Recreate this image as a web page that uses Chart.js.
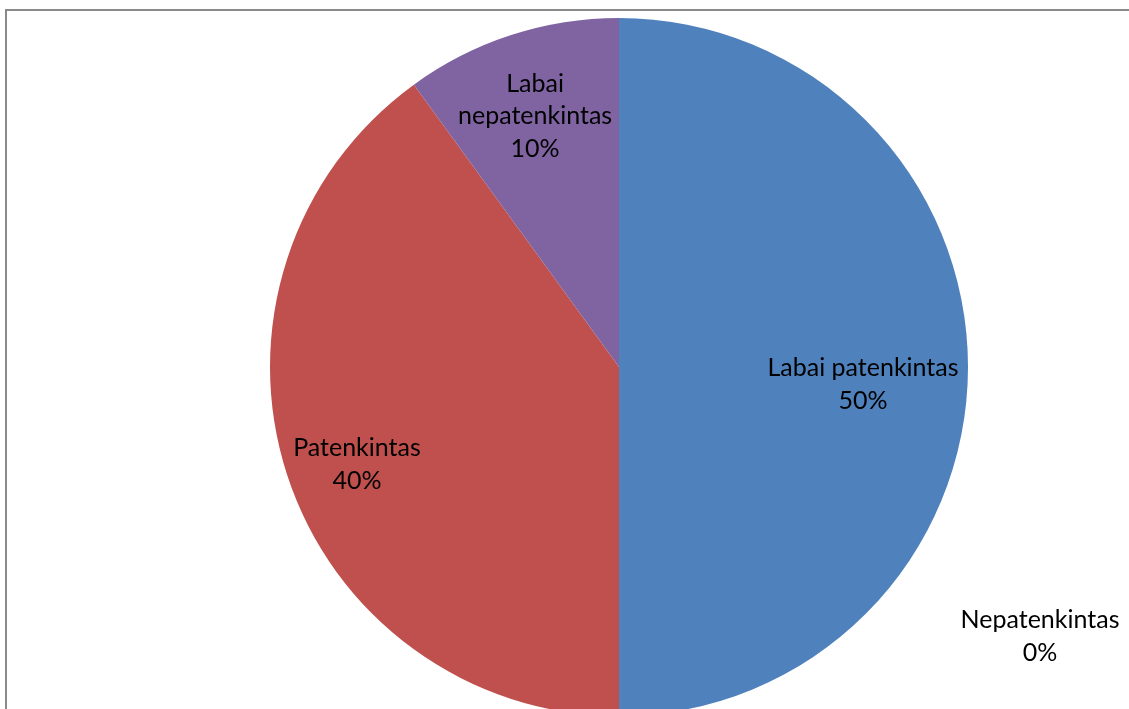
<!DOCTYPE html>
<html>
<head>
<meta charset="utf-8">
<script src="https://cdn.jsdelivr.net/npm/chart.js@4"></script>
<style>
  html, body { margin: 0; padding: 0; background: #fff; overflow: hidden; }
  #frame { position: absolute; left: 5px; top: 9px; width: 1300px; height: 900px; border: 2px solid #8a8a8a; }
  #wrap { position: absolute; left: 0; top: 0; width: 1129px; height: 740px; }
</style>
</head>
<body>
<div id="frame"></div>
<div id="wrap"><canvas id="pieChart"></canvas></div>
<script>
let categories = ["Labai patenkintas", "Nepatenkintas", "Patenkintas", "Labai nepatenkintas"];
let percentages = [50, 0, 40, 10];
let slice_colors = ["#4F81BD", "#9BBB59", "#C0504D", "#8064A2"];

// where each label block sits: [radius fraction, angle in degrees clockwise from top]
let label_spots = [[0.701, 94.1], [1.432, 122.6], [0.801, 249.6], [0.758, 341.5]];

const pieLabels = {
  id: "pieLabels",
  afterDatasetsDraw(chart) {
    const ctx = chart.ctx;
    const arcs = chart.getDatasetMeta(0).data;
    ctx.save();
    ctx.font = "25px Lato";
    ctx.fillStyle = "#000";
    ctx.textAlign = "center";
    ctx.textBaseline = "middle";
    arcs.forEach((arc, i) => {
      const r = arc.outerRadius;
      const a = label_spots[i][1] * Math.PI / 180;
      const x = arc.x + label_spots[i][0] * r * Math.sin(a);
      const y = arc.y - label_spots[i][0] * r * Math.cos(a);
      let lines = categories[i] == "Labai nepatenkintas" ? ["Labai", "nepatenkintas"] : [categories[i]];
      lines.push(percentages[i] + "%");
      const lh = 32.5;
      lines.forEach((t, k) => {
        ctx.fillText(t, x, y + (k - (lines.length - 1) / 2) * lh);
      });
    });
    ctx.restore();
  }
};

new Chart("pieChart", {
  type: "pie",
  data: {
    labels: categories,
    datasets: [{
      data: percentages,
      backgroundColor: slice_colors,
      borderWidth: 0,
      hoverOffset: 0
    }]
  },
  options: {
    responsive: true,
    maintainAspectRatio: false,
    animation: false,
    layout: { padding: { left: 270, right: 161, top: 18, bottom: 24 } },
    plugins: {
      legend: { display: false },
      tooltip: { enabled: false }
    }
  },
  plugins: [pieLabels]
});
</script>
</body>
</html>
